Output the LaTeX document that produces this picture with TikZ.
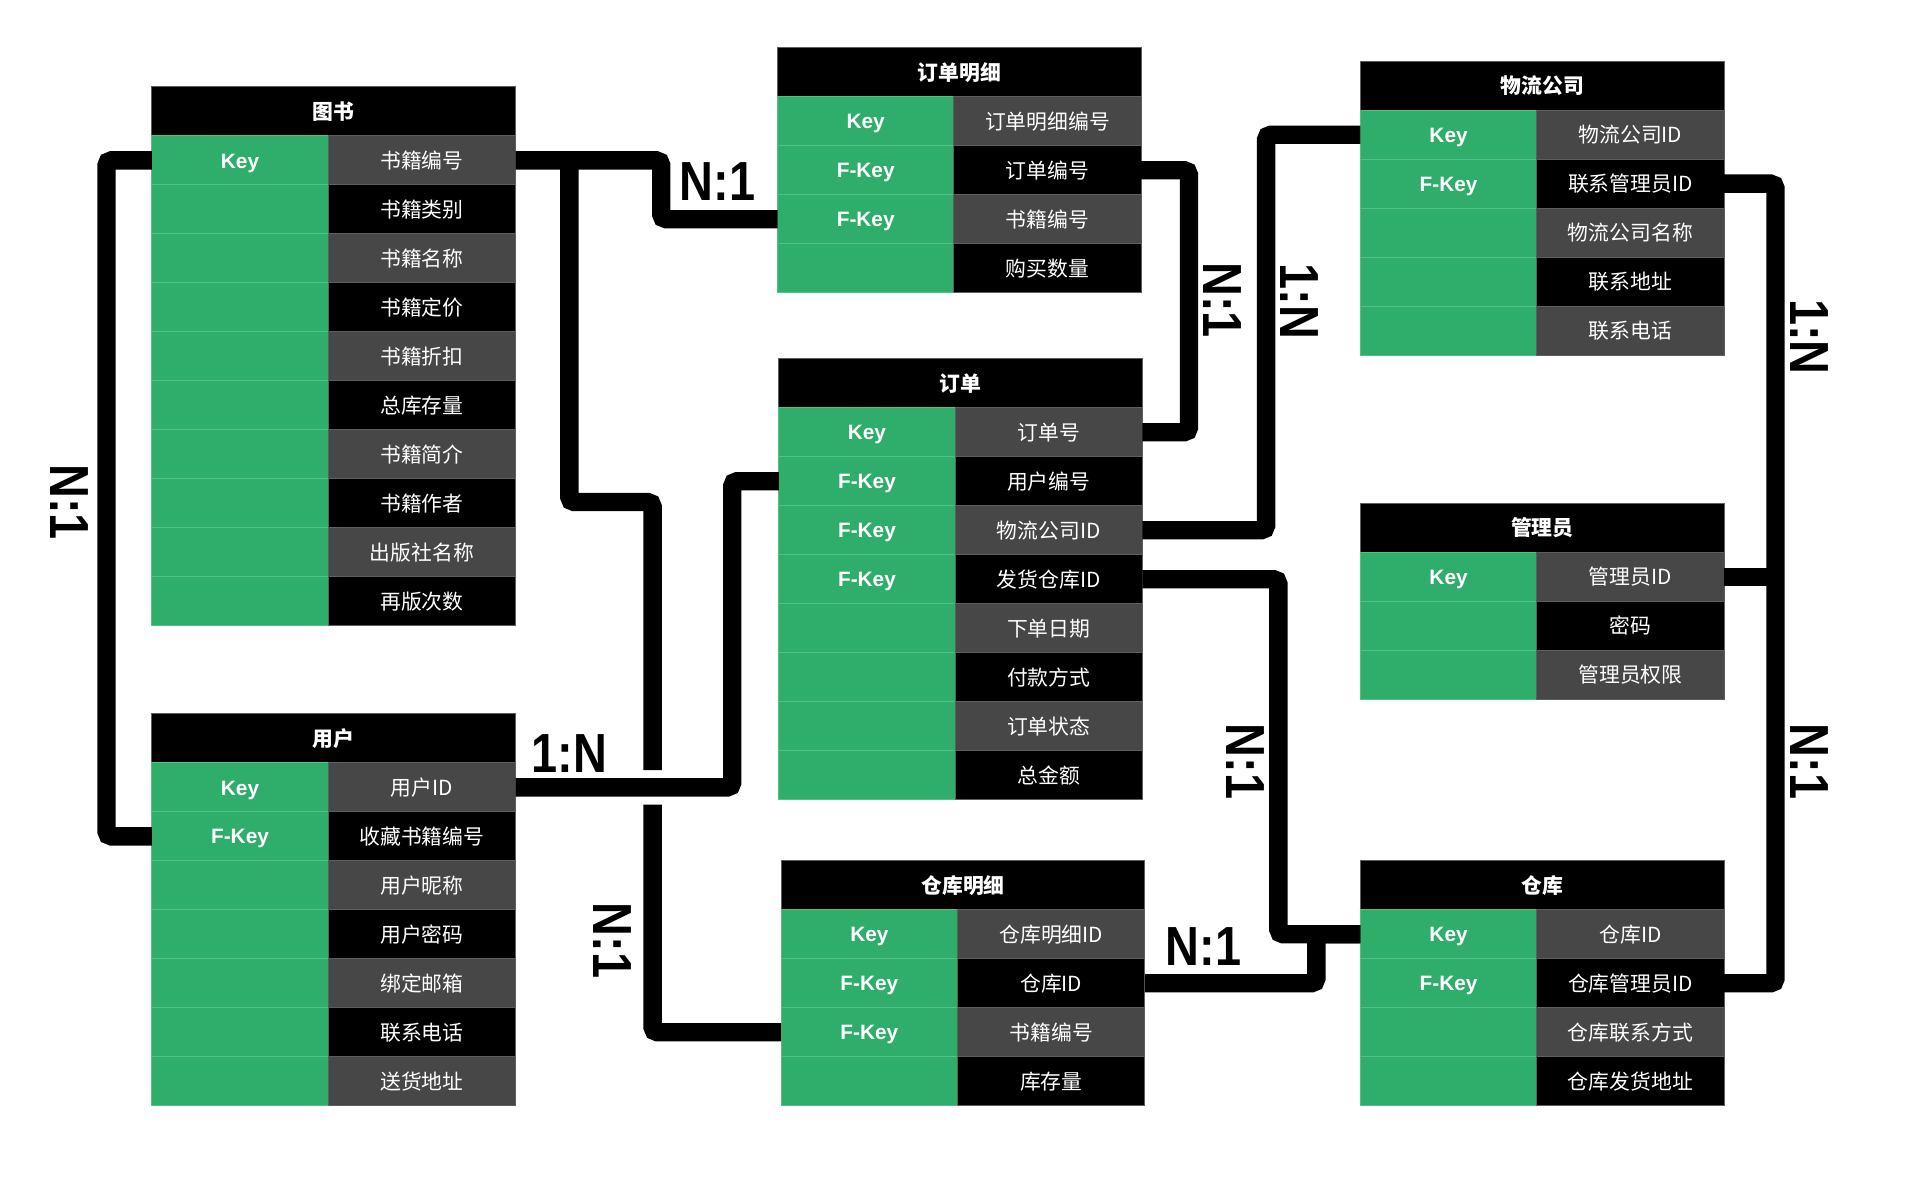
\documentclass[tikz,border=0pt]{standalone}
\usepackage{fontspec}
\setmainfont{Liberation Sans}
\newfontfamily\cjk{Noto Sans CJK SC}
\definecolor{keygreen}{HTML}{2EAD6B}
\definecolor{keyline}{HTML}{52C189}
\definecolor{rowgray}{HTML}{474747}
\definecolor{edgegray}{HTML}{5E5E5E}
\tikzset{
  headcell/.style={fill=black,draw=edgegray,line width=0.8pt,text=white,
    minimum width=297pt,minimum height=40pt,inner sep=0pt,outer sep=0pt,
    font=\cjk\bfseries\fontsize{17}{20}\selectfont},
  keycell/.style={fill=keygreen,draw=keyline,line width=0.8pt,text=white,
    minimum width=144pt,minimum height=40pt,inner sep=0pt,outer sep=0pt,
    text height=12.5pt,text depth=0pt,
    font=\bfseries\fontsize{17}{20}\selectfont},
  fieldcell/.style={draw=edgegray,line width=0.8pt,text=white,
    minimum width=153pt,minimum height=40pt,inner sep=0pt,outer sep=0pt,
    font=\cjk\fontsize{17}{20}\selectfont},
  link/.style={line width=15pt,rounded corners=4pt},
  lbl/.style={inner sep=0pt,font=\bfseries\fontsize{45}{45}\selectfont}
}
% #1 name, #2 left, #3 top, #4 title, #5 key/field rows
\newcommand{\ertable}[5]{%
  \node[headcell,anchor=north west] (#1-h) at (#2,#3) {#4};
  \foreach \kk/\ff [count=\i] in {#5}{%
    \ifodd\i\relax\def\rowfill{rowgray}\else\def\rowfill{black}\fi
    \node[keycell,anchor=north west] (#1-k\i) at (#2,{#3+40*\i}) {\kk};
    \node[fieldcell,fill=\rowfill,anchor=west] (#1-f\i) at (#1-k\i.east) {\ff};
  }%
}
\newcommand{\rel}[1]{\scalebox{0.85}[1]{#1}}
\begin{document}
\begin{tikzpicture}[x=1pt,y=-1pt,line cap=butt]
  \useasboundingbox (0,0) rectangle (1568,980);

  \ertable{book}{124}{71}{图书}{Key/书籍编号,{}/书籍类别,{}/书籍名称,{}/书籍定价,{}/书籍折扣,{}/总库存量,{}/书籍简介,{}/书籍作者,{}/出版社名称,{}/再版次数}
  \ertable{user}{124}{583}{用户}{Key/用户ID,F-Key/收藏书籍编号,{}/用户昵称,{}/用户密码,{}/绑定邮箱,{}/联系电话,{}/送货地址}
  \ertable{odd}{635}{39}{订单明细}{Key/订单明细编号,F-Key/订单编号,F-Key/书籍编号,{}/购买数量}
  \ertable{ord}{636}{293}{订单}{Key/订单号,F-Key/用户编号,F-Key/物流公司ID,F-Key/发货仓库ID,{}/下单日期,{}/付款方式,{}/订单状态,{}/总金额}
  \ertable{stk}{638}{703}{仓库明细}{Key/仓库明细ID,F-Key/仓库ID,F-Key/书籍编号,{}/库存量}
  \ertable{log}{1111}{50}{物流公司}{Key/物流公司ID,F-Key/联系管理员ID,{}/物流公司名称,{}/联系地址,{}/联系电话}
  \ertable{adm}{1111}{411}{管理员}{Key/管理员ID,{}/密码,{}/管理员权限}
  \ertable{wh}{1111}{703}{仓库}{Key/仓库ID,F-Key/仓库管理员ID,{}/仓库联系方式,{}/仓库发货地址}

  \path (user-f1.east) ++(112,0) coordinate (hop);

  \draw[link] (book-k1.west) -- ++(-37,0) |- (user-k2.west);
  \draw[link] (book-f1.east) -- ++(119,0) |- (odd-k3.west);
  \draw[link] (book-f1.east) ++(44,0) -- ++(0,279) -| ([yshift=14pt]hop);
  \draw[link] ([yshift=-14pt]hop) |- (stk-k3.west);
  \draw[link] (user-f1.east) -- ++(177,0) |- (ord-k2.west);
  \draw[link] (odd-f2.east) -- ++(39,0) |- (ord-f1.east);
  \draw[link] (ord-f3.east) -- ++(101,0) |- (log-k1.west);
  \draw[link] (ord-f4.east) -- ++(111,0) |- (wh-k1.west);
  \draw[link] (stk-f2.east) -- ++(140,0) |- (wh-k1.west);
  \draw[link] (log-f2.east) -- ++(42,0) |- (wh-f2.east);
  \draw[link] (adm-f1.east) -- ++(42,0);

  \node[lbl,rotate=-90] (bookuser) at (57,410) {\rel{N:1}};
  \node[lbl] (bookodd) at (586,148) {\rel{N:1}};
  \node[lbl] (userord) at (465,615) {\rel{1:N}};
  \node[lbl,rotate=-90] (stkbook) at (500,768) {\rel{N:1}};
  \node[lbl,rotate=-90] (oddord) at (998,245) {\rel{N:1}};
  \node[lbl,rotate=-90] (logord) at (1061,246) {\rel{1:N}};
  \node[lbl,rotate=-90] (ordwh) at (1017,622) {\rel{N:1}};
  \node[lbl] (stkwh) at (983,773) {\rel{N:1}};
  \node[lbl,rotate=-90] (admlog) at (1478,275) {\rel{1:N}};
  \node[lbl,rotate=-90] (whadm) at (1478,622) {\rel{N:1}};
\end{tikzpicture}
\end{document}
